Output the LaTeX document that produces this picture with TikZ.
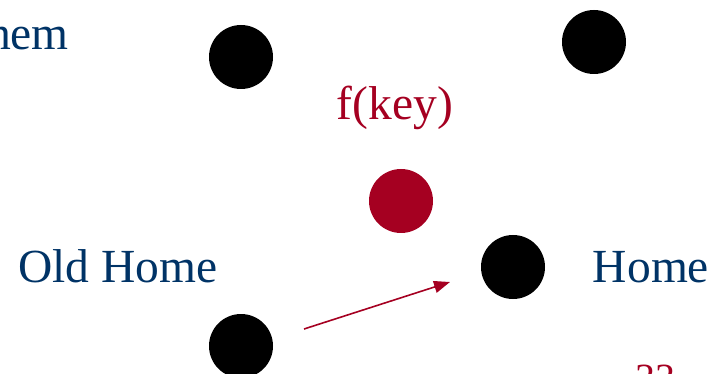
\documentclass[tikz,border=0pt]{standalone}
\usepackage{fontspec}
\setmainfont{Liberation Serif}
\usetikzlibrary{arrows.meta}
\definecolor{slideblue}{HTML}{003366}
\definecolor{slidered}{HTML}{A50021}

\begin{document}
\begin{tikzpicture}[x=1pt, y=-1pt,
    dot/.style={circle, fill=black, minimum size=64pt, inner sep=0pt},
    label/.style={text=slideblue, font=\fontsize{47.5}{57}\selectfont, inner sep=0pt}]
    \useasboundingbox (0,0) rectangle (723,374);
    \clip (0,0) rectangle (723,374);

    % Punkte
    \node[dot] (topleft) at (241,57) {};
    \node[dot] (topright) at (594,42) {};
    \node[dot, fill=slidered] (key) at (401,201) {};
    \node[dot] (home) at (513,267) {};
    \node[dot] (oldhome) at (241,346) {};

    % Texte
    \node[label, anchor=base east] (them) at (69,50) {hem};
    \node[label, text=slidered, anchor=base] (fkey) at (395,120) {f(key)};
    \node[label, anchor=base] (oldlabel) at (118,282) {Old Home};
    \node[label, anchor=base] (homelabel) at (651,282) {Home};
    \node[text=slidered, font=\fontsize{40}{48}\selectfont, anchor=base, inner sep=0pt] (page) at (655,391) {33};

    % Pfeil
    \coordinate (from) at (304,329);
    \coordinate (to) at (450,282);
    \draw[slidered, line width=1.6pt, -{Triangle[length=16pt, width=12pt]}] (from) -- (to);
\end{tikzpicture}
\end{document}
